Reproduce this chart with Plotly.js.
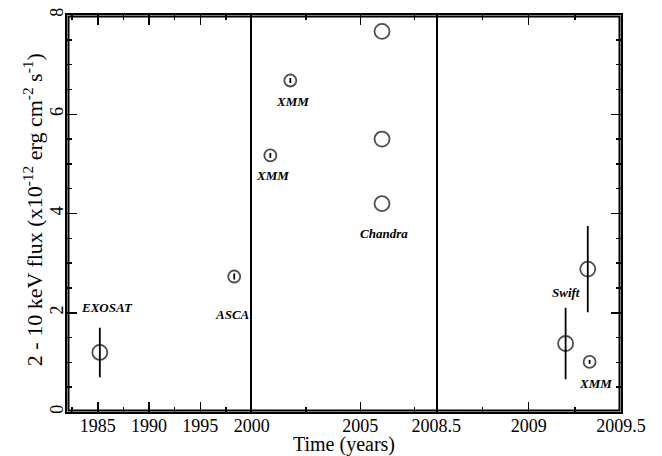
<!DOCTYPE html>
<html>
<head>
<meta charset="utf-8">
<script src="https://cdn.plot.ly/plotly-3.0.1.min.js"></script>
<style>html,body{margin:0;padding:0;background:#fff;}#chart{width:662px;height:456px;}</style>
</head>
<body>
<div id="chart"></div>
<script>
// ---- data ----
// segment 1 (1982-2000)
const seg1X = [1985.2, 1998.3];
const seg1Y = [1.20, 2.73];
const seg1Err = [0.50, 0.06];
const seg1Size = [15, 12];
// segment 2 (2000-2008.5)
const seg2X = [2000.86, 2001.78, 2006.0, 2006.0, 2006.0];
const seg2Y = [5.17, 6.68, 7.67, 5.50, 4.20];
const seg2Err = [0.05, 0.05, 0, 0, 0];
const seg2Size = [12, 12, 15, 15, 15];
// segment 3 (2008.5-2009.5)
const seg3X = [2009.2, 2009.32, 2009.33];
const seg3Y = [1.38, 2.88, 1.01];
const seg3Err = [0.72, 0.87, 0.04];
const seg3Size = [15, 15, 12];
// instrument labels
const labelText = ["EXOSAT", "ASCA", "XMM", "XMM", "Chandra", "Swift", "XMM"];
const labelAxis = ["x", "x", "x2", "x2", "x2", "x3", "x3"];
const labelX = [1985.9, 1998.1, 2000.96, 2001.87, 2006.1, 2009.2, 2009.36];
const labelY = [2.10, 1.97, 4.76, 6.25, 3.59, 2.41, 0.58];
// tick labels
const xTicks1 = [1985, 1990, 1995, 2000];
const xTicks2 = [2005, 2008.5];
const xTicks3 = [2009, 2009.5];
const yTicks = [0, 2, 4, 6, 8];
const xTitle = "Time (years)";
const yTitle = "2 - 10 keV flux (x10<sup>-12</sup> erg cm<sup>-2</sup> s<sup>-1</sup>)";

const font = "Liberation Serif";
const W = 662, H = 456, ML = 67, MR = 41, MT = 15, MB = 44;
const plotW = W - ML - MR, plotH = H - MT - MB;

function trace(x, y, err, size, xa, ya) {
  return {
    x: x, y: y, xaxis: xa, yaxis: ya, type: "scatter", mode: "markers",
    marker: {symbol: "circle-open", size: size, color: "#000", line: {width: 1.8, color: "#000"}},
    error_y: {type: "data", array: err, visible: true, width: 0, thickness: 1.8, color: "#000"},
    showlegend: false, hoverinfo: "skip", cliponaxis: false
  };
}

const data = [
  trace(seg1X, seg1Y, seg1Err, seg1Size, "x", "y"),
  trace(seg2X, seg2Y, seg2Err, seg2Size, "x2", "y2"),
  trace(seg3X, seg3Y, seg3Err, seg3Size, "x3", "y3")
];

function minorTicks(t0, dt) {
  return {tick0: t0, dtick: dt, ticks: "inside", ticklen: 5, tickwidth: 1.5, tickcolor: "#000", showgrid: false};
}
const xBase = {
  showline: true, linecolor: "#000", linewidth: 2, mirror: "ticks",
  ticks: "inside", ticklen: 10, tickwidth: 1.5, tickcolor: "#000",
  showgrid: false, zeroline: false, ticklabelstandoff: -4,
  tickfont: {family: font, size: 18, color: "#000"},
  fixedrange: true, tickmode: "array"
};

const annotations = labelText.map((t, i) => ({
  text: "<b><i>" + t + "</i></b>",
  x: labelX[i], y: labelY[i], xref: labelAxis[i], yref: "y",
  showarrow: false, font: {family: font, size: 13, color: "#000"},
  xanchor: "center", yanchor: "middle"
}));
annotations.push({
  text: yTitle, xref: "paper", yref: "paper", x: -0.062, y: 0.51,
  xanchor: "center", yanchor: "middle", textangle: -90, showarrow: false,
  font: {family: font, size: 22, color: "#000"}
});

// plot frame, inset so the full stroke lies inside the plotting area
const inX = 1.5 / plotW, inY = 1.5 / plotH;

const layout = {
  width: W, height: H,
  margin: {l: ML, r: MR, t: MT, b: MB},
  paper_bgcolor: "#fff", plot_bgcolor: "rgba(0,0,0,0)",
  font: {family: font, color: "#000"},
  xaxis: Object.assign({}, xBase, {
    anchor: "y", domain: [0, 1/3], range: [1982, 2000],
    tickvals: xTicks1, ticktext: xTicks1.map(String),
    minor: minorTicks(1985, 2.5)
  }),
  xaxis2: Object.assign({}, xBase, {
    anchor: "y2", domain: [1/3, 2/3], range: [2000, 2008.5],
    tickvals: xTicks2, ticktext: xTicks2.map(String),
    minor: minorTicks(2000, 2.5),
    title: {text: xTitle, font: {family: font, size: 20, color: "#000"}, standoff: 0}
  }),
  xaxis3: Object.assign({}, xBase, {
    anchor: "y3", domain: [2/3, 1], range: [2008.5, 2009.5],
    tickvals: xTicks3, ticktext: xTicks3.map(String),
    minor: minorTicks(2008.5, 0.25)
  }),
  yaxis: {
    domain: [0, 1], range: [0, 8], anchor: "x", side: "left",
    showline: true, linecolor: "#000", linewidth: 2,
    ticks: "inside", ticklen: 10, tickwidth: 1.5, tickcolor: "#000",
    tickmode: "array", tickvals: yTicks, ticktext: yTicks.map(String),
    tickangle: -90, minor: minorTicks(0, 0.5), ticklabelstandoff: -5,
    showgrid: false, zeroline: false, fixedrange: true,
    tickfont: {family: font, size: 18, color: "#000"}
  },
  yaxis2: {
    domain: [0, 1], range: [0, 8], anchor: "x2", side: "left",
    showline: true, linecolor: "#000", linewidth: 2, mirror: true,
    ticks: "", showticklabels: false,
    showgrid: false, zeroline: false, fixedrange: true
  },
  yaxis3: {
    domain: [0, 1], range: [0, 8], anchor: "x3", side: "right",
    showline: true, linecolor: "#000", linewidth: 2,
    ticks: "inside", ticklen: 10, tickwidth: 1.5, tickcolor: "#000",
    tickmode: "array", tickvals: yTicks, showticklabels: false,
    minor: minorTicks(0, 0.5),
    showgrid: false, zeroline: false, fixedrange: true
  },
  shapes: [{
    type: "rect", xref: "paper", yref: "paper", x0: inX, x1: 1 - inX, y0: inY, y1: 1 - inY,
    line: {color: "#000", width: 2}, fillcolor: "rgba(0,0,0,0)", layer: "above"
  }],
  annotations: annotations
};

Plotly.newPlot("chart", data, layout, {displayModeBar: false, staticPlot: true});
</script>
</body>
</html>
